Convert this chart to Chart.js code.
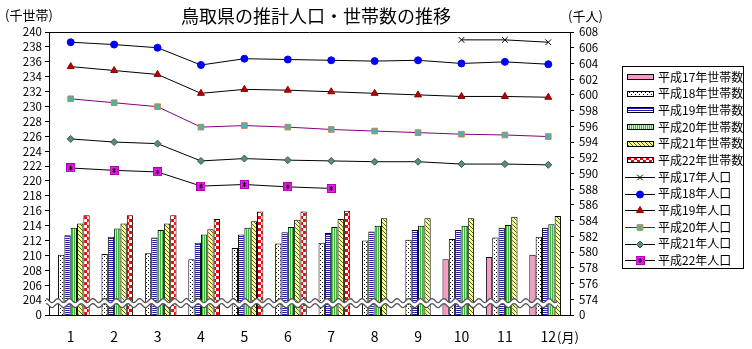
<!DOCTYPE html>
<html lang="ja">
<head>
<meta charset="utf-8">
<title>鳥取県の推計人口・世帯数の推移</title>
<script src="https://cdn.jsdelivr.net/npm/chart.js@4/dist/chart.umd.min.js"></script>
<style>
  body{margin:0;background:#fff;font-family:"Noto Sans CJK JP",sans-serif;}
  #wrap{position:relative;width:752px;height:349px;overflow:hidden;}
  #chart{position:absolute;left:0;top:0;}
  .lbl{position:absolute;white-space:nowrap;color:#000;line-height:1;}
  #title{left:316px;top:6px;font-size:18px;transform:translateX(-50%);}
  #unitL{left:5px;top:8px;font-size:13px;}
  #unitR{left:568px;top:9px;font-size:13px;}
  #unitX{left:557px;top:330px;font-size:13px;}
  #legend{position:absolute;left:622px;top:66px;width:122px;height:203px;border:1px solid #000;
          box-sizing:border-box;background:#fff;padding-top:1.5px;}
  #legend .row{height:16.7px;display:flex;align-items:center;font-size:12px;line-height:16.7px;white-space:nowrap;}
  #legend canvas{margin:0 3px 0 2px;flex:none;}
</style>
</head>
<body>
<div id="wrap">
  <canvas id="chart" width="752" height="349"></canvas>
  <div class="lbl" id="title">鳥取県の推計人口・世帯数の推移</div>
  <div class="lbl" id="unitL">(千世帯)</div>
  <div class="lbl" id="unitR">(千人)</div>
  <div class="lbl" id="unitX">(月)</div>
  <div id="legend"></div>
</div>
<script>
/* ===============================
  データ
================================ */
const months = ['1','2','3','4','5','6','7','8','9','10','11','12'];

// 世帯数 (千世帯)
const hh17 = [null,null,null,null,null,null,null,null,null,209.5,209.8,210.1];
const hh18 = [210.1,210.2,210.3,209.5,211.0,211.6,211.7,212.0,212.1,212.2,212.4,212.5];
const hh19 = [212.7,212.5,212.4,211.7,212.8,213.1,213.0,213.2,213.4,213.4,213.7,213.7];
const hh20 = [213.7,213.6,213.4,212.8,213.7,213.8,213.8,214.0,214.0,214.0,214.1,214.2];
const hh21 = [214.3,214.3,214.3,213.5,214.6,214.8,214.9,215.0,215.0,215.0,215.2,215.3];
const hh22 = [215.4,215.4,215.4,214.9,215.9,215.9,216.0,null,null,null,null,null];

// 人口 (千人)
const pop17 = [null,null,null,null,null,null,null,null,null,607.0,607.0,606.7];
const pop18 = [606.7,606.4,606.0,603.8,604.6,604.5,604.4,604.3,604.4,604.0,604.2,603.9];
const pop19 = [603.6,603.1,602.6,600.2,600.7,600.6,600.4,600.2,600.0,599.8,599.8,599.7];
const pop20 = [599.5,599.0,598.5,595.9,596.1,595.9,595.6,595.4,595.2,595.0,594.9,594.7];
const pop21 = [594.4,594.0,593.8,591.6,591.9,591.7,591.6,591.5,591.5,591.2,591.2,591.1];
const pop22 = [590.7,590.4,590.2,588.4,588.6,588.3,588.1,null,null,null,null,null];

// 軸 (一番下の目盛は「0」表示、波線で省略)
const hhMin = 202, hhMax = 240;
const popMin = 572, popMax = 608;

/* ===============================
  パターン
================================ */
const canvas = document.getElementById('chart');
const ctx = canvas.getContext('2d');

function tile(w, h, draw){
    const c = document.createElement('canvas');
    c.width = w; c.height = h;
    draw(c.getContext('2d'));
    return ctx.createPattern(c, 'repeat');
}

const patPink = '#f79ac4';
const patDots = tile(4,4,g=>{
    g.fillStyle='#fff'; g.fillRect(0,0,4,4);
    g.fillStyle='#000'; g.fillRect(0,0,1,1); g.fillRect(2,2,1,1);
});
const patBlue = tile(2,2,g=>{
    g.fillStyle='#fff'; g.fillRect(0,0,2,2);
    g.fillStyle='#1c1cb0'; g.fillRect(0,0,2,1);
});
const patGreen = tile(2,2,g=>{
    g.fillStyle='#c4f6c4'; g.fillRect(0,0,2,2);
    g.fillStyle='#3cb83c'; g.fillRect(0,0,1,2);
});
const patYellow = tile(4,4,g=>{
    g.fillStyle='#f0ff96'; g.fillRect(0,0,4,4);
    g.fillStyle='#5c5c24';
    for(let i=0;i<4;i++) g.fillRect(i,i,1,1);
});
const patRed = tile(6,6,g=>{
    g.fillStyle='#fff'; g.fillRect(0,0,6,6);
    g.fillStyle='#ff0000'; g.fillRect(0,0,3,3); g.fillRect(3,3,3,3);
});

// 平成22年人口のマーカー (マゼンタの四角に＊)
const star = document.createElement('canvas');
star.width = 9; star.height = 9;
(function(g){
    g.fillStyle='#f020f0'; g.fillRect(0,0,9,9);
    g.strokeStyle='#b000b0'; g.lineWidth=1; g.strokeRect(0.5,0.5,8,8);
    g.strokeStyle='#000'; g.beginPath();
    g.moveTo(4.5,2); g.lineTo(4.5,7);
    g.moveTo(2.5,3); g.lineTo(6.5,6);
    g.moveTo(6.5,3); g.lineTo(2.5,6);
    g.stroke();
})(star.getContext('2d'));

/* ===============================
  データセット
================================ */
function barSet(label, data, fill){
    return {
        type:'bar', label, data, yAxisID:'y',
        backgroundColor:fill, borderColor:'#000', borderWidth:1,
        borderSkipped:'start', categoryPercentage:0.875, barPercentage:1, order:2
    };
}
function lineSet(label, data, line, style, r, fill, edge){
    return {
        type:'line', label, data, yAxisID:'y1',
        borderColor:line, borderWidth:1, tension:0, spanGaps:false,
        pointStyle:style, pointRadius:r, pointHoverRadius:r,
        pointBackgroundColor:fill, pointBorderColor:edge, pointBorderWidth:1, order:1
    };
}

const datasets = [
    barSet('平成17年世帯数', hh17, patPink),
    barSet('平成18年世帯数', hh18, patDots),
    barSet('平成19年世帯数', hh19, patBlue),
    barSet('平成20年世帯数', hh20, patGreen),
    barSet('平成21年世帯数', hh21, patYellow),
    barSet('平成22年世帯数', hh22, patRed),
    lineSet('平成17年人口', pop17, '#000', 'crossRot', 4, '#000', '#000'),
    lineSet('平成18年人口', pop18, '#000', 'circle', 3.5, '#0000ff', '#0000ff'),
    lineSet('平成19年人口', pop19, '#000', 'triangle', 4, '#b80000', '#900000'),
    lineSet('平成20年人口', pop20, '#800080', 'rect', 4, '#44b4b4', '#c8864a'),
    lineSet('平成21年人口', pop21, '#000', 'rectRot', 3.5, '#5c8c7a', '#2e5a4a'),
    lineSet('平成22年人口', pop22, '#000', star, 4.5, '#f020f0', '#000')
];

/* ===============================
  波線 (軸の省略) と枠
================================ */
const breakPlugin = {
    id:'axisBreak',
    afterDatasetsDraw(chart){
        const {ctx:g, chartArea:a, scales} = chart;
        const yc = scales.y.getPixelForValue(203.6);
        const x0 = a.left - 3, x1 = a.right - 13;
        const wave = x => 2 * Math.sin((x - a.left) * 2 * Math.PI / 11.7);
        g.save();
        g.beginPath();
        for(let x=x0; x<=x1; x++) g.lineTo(x, yc - 2.5 + wave(x));
        for(let x=x1; x>=x0; x--) g.lineTo(x, yc + 2.5 + wave(x));
        g.closePath();
        g.fillStyle = '#fff';
        g.fill();
        g.strokeStyle = '#555';
        g.lineWidth = 1.3;
        [-2.5, 2.5].forEach(off=>{
            g.beginPath();
            for(let x=x0; x<=x1; x++) g.lineTo(x, yc + off + wave(x));
            g.stroke();
        });
        // 上枠
        g.strokeStyle = '#000';
        g.lineWidth = 1;
        g.beginPath();
        g.moveTo(a.left, Math.round(a.top) + 0.5);
        g.lineTo(a.right, Math.round(a.top) + 0.5);
        g.stroke();
        g.restore();
    }
};

/* ===============================
  グラフ
================================ */
Chart.defaults.font.family = '"Noto Sans CJK JP", sans-serif';
Chart.defaults.font.size = 12;
Chart.defaults.color = '#000';

new Chart(canvas,{
    data:{ labels:months, datasets },
    options:{
        responsive:false,
        animation:false,
        layout:{ padding:{ left:0, top:32, right:142, bottom:0 } },
        plugins:{ legend:{display:false}, tooltip:{enabled:false}, title:{display:false} },
        scales:{
            x:{
                grid:{display:false, drawTicks:false},
                border:{display:true, color:'#000'},
                ticks:{font:{size:14}, padding:13},
                afterFit:s=>{ s.height = 34; }
            },
            y:{
                position:'left', min:hhMin, max:hhMax,
                grid:{drawOnChartArea:false, tickLength:4, color:'#000'},
                border:{display:true, color:'#000'},
                ticks:{stepSize:2, padding:3, autoSkip:false, font:{size:11.5},
                       callback:v=> v===hhMin ? '0' : v},
                afterFit:s=>{ s.width = 49; }
            },
            y1:{
                position:'right', min:popMin, max:popMax,
                grid:{drawOnChartArea:false, tickLength:4, color:'#000'},
                border:{display:true, color:'#000'},
                ticks:{stepSize:2, padding:5, autoSkip:false, font:{size:11.5},
                       callback:v=> v===popMin ? '0' : v},
                afterFit:s=>{ s.width = 40; }
            }
        }
    },
    plugins:[breakPlugin]
});

/* ===============================
  凡例
================================ */
const legend = document.getElementById('legend');
datasets.forEach(ds=>{
    const row = document.createElement('div');
    row.className = 'row';
    const sw = document.createElement('canvas');
    sw.width = 30; sw.height = 12;
    const g = sw.getContext('2d');
    if(ds.type === 'bar'){
        g.fillStyle = ds.backgroundColor;
        g.fillRect(2,3,27,6);
        g.strokeStyle = '#000';
        g.strokeRect(2.5,3.5,26,5);
    }else{
        g.strokeStyle = ds.borderColor;
        g.beginPath(); g.moveTo(0,6.5); g.lineTo(30,6.5); g.stroke();
        g.fillStyle = ds.pointBackgroundColor;
        g.strokeStyle = ds.pointBorderColor;
        g.lineWidth = 1;
        Chart.helpers.drawPoint(g, {pointStyle:ds.pointStyle, radius:ds.pointRadius, borderWidth:1, rotation:0}, 15, 6.5);
    }
    row.appendChild(sw);
    const t = document.createElement('span');
    t.textContent = ds.label;
    row.appendChild(t);
    legend.appendChild(row);
});
</script>
</body>
</html>
